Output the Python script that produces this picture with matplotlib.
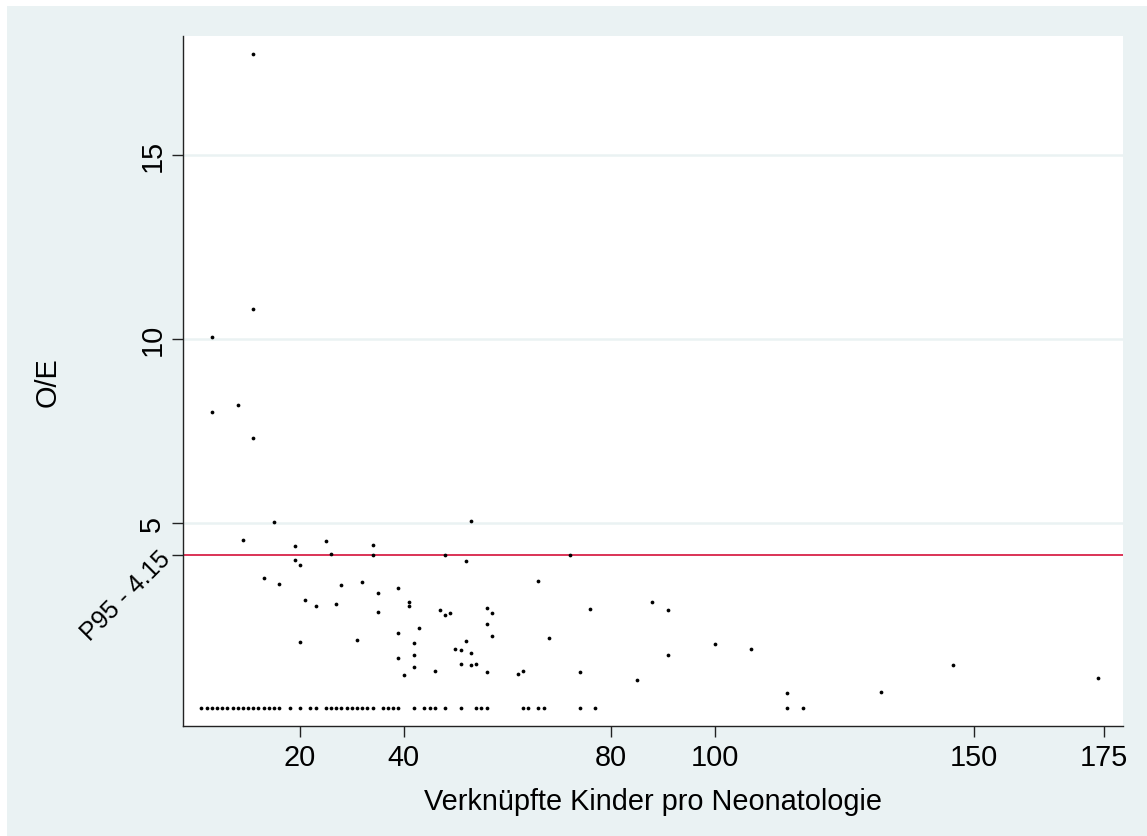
import matplotlib.pyplot as plt
from matplotlib.patches import Rectangle

# Cases with O/E = 0 (bottom row)
n_zero = [1, 2, 3, 4, 5, 6, 7, 8, 9, 10, 11, 12, 13, 14, 15, 16, 18, 20, 22, 23,
          25, 26, 27, 28, 29, 30, 31, 32, 33, 34, 36, 37, 38, 39, 42, 44, 45, 46,
          48, 51, 54, 55, 56, 63, 64, 66, 67, 74, 77, 114, 117]
oe_zero = [0.0] * len(n_zero)

# Cases with O/E > 0
n_pos = [11, 11, 3, 8, 3, 11, 9, 15, 13, 16, 19, 19, 20, 21, 23, 20, 25, 26, 28, 27,
         32, 31, 34, 34, 35, 35, 39, 41, 41, 43, 39, 39, 42, 42, 42, 40, 46, 47, 48, 49,
         48, 52, 53, 50, 51, 52, 53, 51, 53, 54, 56, 57, 56, 57, 56, 62, 63, 66, 68, 72,
         74, 76, 85, 88, 91, 91, 100, 107, 114, 132, 146, 174]
oe_pos = [17.74, 10.81, 10.07, 8.22, 8.03, 7.31, 4.55, 5.05, 3.51, 3.36, 4.39, 4.01, 3.87,
          2.91, 2.76, 1.79, 4.52, 4.18, 3.33, 2.81, 3.42, 1.84, 4.41, 4.14, 3.12, 2.58,
          3.25, 2.86, 2.76, 2.17, 2.02, 1.34, 1.76, 1.43, 1.10, 0.87, 0.99, 2.66, 2.50,
          2.57, 4.14, 3.99, 5.07, 1.60, 1.56, 1.81, 1.48, 1.18, 1.16, 1.19, 2.71, 2.57,
          2.26, 1.93, 0.96, 0.91, 0.99, 3.44, 1.90, 4.14, 0.96, 2.67, 0.75, 2.86, 2.65,
          1.43, 1.73, 1.59, 0.40, 0.41, 1.15, 0.80]

p95 = 4.15
x_ticks = [20, 40, 80, 100, 150, 175]
y_ticks = [p95, 5, 10, 15]
y_ticklabels = ['P95 - 4.15', '5', '10', '15']

bg = '#EAF2F3'
plt.rcParams['font.family'] = ['Liberation Sans', 'DejaVu Sans']

fig = plt.figure(figsize=(11.47, 8.37), dpi=100)
fig.patch.set_facecolor('white')
fig.patches.append(Rectangle((7 / 1147, 0), 1, 1 - 7 / 837, transform=fig.transFigure,
                             facecolor=bg, edgecolor='none', zorder=-10))

ax = fig.add_axes([0.1595, 0.1314, 0.8193, 0.8244])
ax.set_facecolor('white')

# grid lines
for g in [5, 10, 15]:
    ax.axhline(g, color=bg, lw=1.8, zorder=1)

ax.axhline(p95, color='#D4103A', lw=1.2, zorder=2)

ax.plot(n_zero, oe_zero, 'o', color='black', ms=2.7, mec='none', zorder=3)
ax.plot(n_pos, oe_pos, 'o', color='black', ms=2.7, mec='none', zorder=3)

ax.set_xlim(-2.57, 178.7)
ax.set_ylim(-0.502, 18.23)

for s in ['top', 'right']:
    ax.spines[s].set_visible(False)
for s in ['left', 'bottom']:
    ax.spines[s].set_color('#222222')
    ax.spines[s].set_linewidth(1.0)

ax.set_xticks(x_ticks)
ax.set_xticklabels([str(t) for t in x_ticks])
ax.set_yticks(y_ticks)
ax.set_yticklabels(y_ticklabels)
ax.tick_params(axis='both', length=8, width=1.0, color='#222222', labelsize=20.8, pad=4)
ax.tick_params(axis='y', labelrotation=90)
for lab in ax.get_yticklabels():
    lab.set_va('center')
lab0 = ax.get_yticklabels()[0]
lab0.set_rotation(45)
lab0.set_rotation_mode('anchor')
lab0.set_ha('right')
lab0.set_va('center')
lab0.set_fontsize(18)

ax.set_xlabel('Verknüpfte Kinder pro Neonatologie', fontsize=20.8, labelpad=12)
ax.set_ylabel('O/E', fontsize=20.8)
ax.yaxis.set_label_coords(-0.129, 0.5)

fig.savefig('out.png', dpi=100, facecolor=fig.get_facecolor())
